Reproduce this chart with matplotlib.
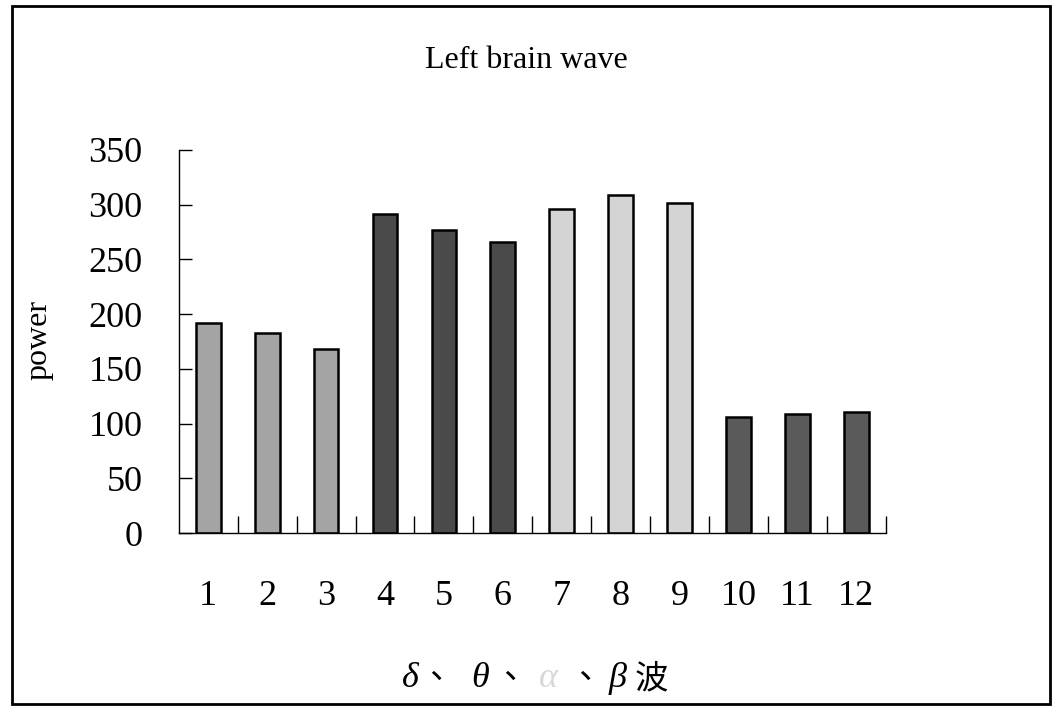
import numpy as np
from matplotlib import pyplot as plt
from matplotlib.patches import Rectangle

# data
kategorier = [1, 2, 3, 4, 5, 6, 7, 8, 9, 10, 11, 12]
power = [192, 183, 168, 291, 277, 266, 296, 309, 301, 106, 109, 111]
farger = ["#a4a4a4", "#a4a4a4", "#a4a4a4",
          "#4a4a4a", "#4a4a4a", "#4a4a4a",
          "#d4d4d4", "#d4d4d4", "#d4d4d4",
          "#5a5a5a", "#5a5a5a", "#5a5a5a"]
yticks = [0, 50, 100, 150, 200, 250, 300, 350]

serif = "Liberation Serif"
cjk = "Noto Sans CJK TC"

fig = plt.figure(figsize=(10.52, 7.10), dpi=100)
ax = fig.add_axes([0.170, 0.249, 0.672, 0.540])

"""bars"""
ax.bar(kategorier, power, width=0.42, color=farger, edgecolor="black", linewidth=1.8)

ax.set_xlim(0.5, 12.5)
ax.set_ylim(0, 350)
ax.spines["top"].set_visible(False)
ax.spines["right"].set_visible(False)
ax.spines["left"].set_linewidth(1.0)
ax.spines["bottom"].set_linewidth(1.0)

"""ticks"""
ax.set_yticks(yticks)
ax.set_yticklabels([str(v) for v in yticks], fontname=serif, fontsize=26)
ax.tick_params(axis="y", direction="in", length=9, width=1.0, pad=26)

ax.set_xticks(kategorier)
ax.set_xticklabels([str(k) for k in kategorier], fontname=serif, fontsize=26)
ax.tick_params(axis="x", which="major", length=0, pad=34)
ax.set_xticks(np.arange(1.5, 13, 1.0), minor=True)
ax.tick_params(axis="x", which="minor", direction="in", length=12, width=1.0)

"""titler"""
fig.text(0.500, 0.915, "Left brain wave", fontname=serif, fontsize=23, ha="center", va="center")
fig.text(0.037, 0.521, "power", fontname=serif, fontsize=23, rotation=90, ha="center", va="center")

# x-label: δ、θ、α、β波  (alpha is almost white in the original)
deler = [("δ", 0.390, "#000000", "gr"), ("、", 0.414, "#000000", "cjk"),
         ("θ", 0.456, "#000000", "gr"), ("、", 0.485, "#000000", "cjk"),
         ("α", 0.521, "#d8d8d8", "gr"), ("、", 0.556, "#000000", "cjk"),
         ("β", 0.587, "#000000", "gr"), ("波", 0.619, "#000000", "cjk")]
for tegn, x, c, typ in deler:
    if typ == "gr":
        fig.text(x, 0.044, tegn, fontname=serif, style="italic", fontsize=26,
                 color=c, ha="center", va="center")
    else:
        fig.text(x, 0.044, tegn, fontname=cjk, fontsize=24,
                 color=c, ha="center", va="center")

"""ramme rundt"""
fig.patches.append(Rectangle((0.011, 0.009), 0.987, 0.983, transform=fig.transFigure,
                             fill=False, edgecolor="black", linewidth=2.0))

plt.savefig("out.png", dpi=100)
